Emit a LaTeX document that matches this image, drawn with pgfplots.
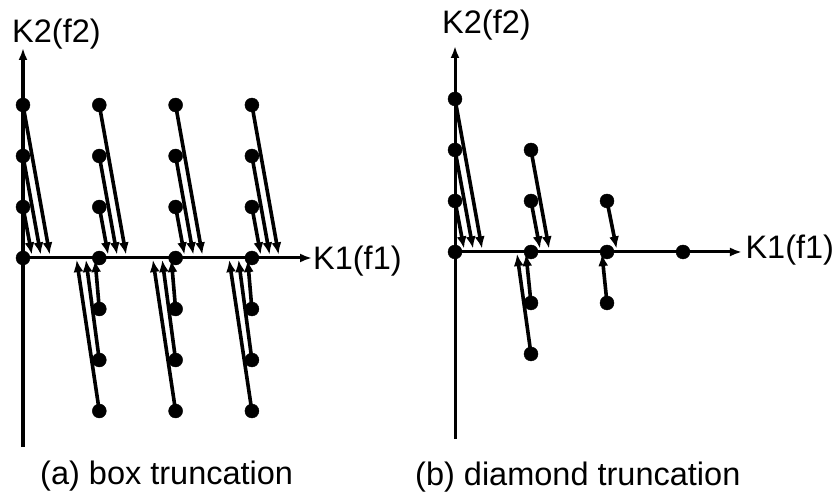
\documentclass[border=0pt]{standalone}
\usepackage{pgfplots}
\pgfplotsset{compat=1.18}
\usepackage{fontspec}
\setmainfont{Liberation Sans}
\usetikzlibrary{arrows.meta}

\pgfplotsset{
  panel/.style={
    x=76.3pt, y=51pt,
    axis lines=middle,
    xtick=\empty, ytick=\empty,
    axis line style={line width=3pt, -{Latex[length=12pt,width=9pt]}},
    clip=false,
    anchor=south west,
  },
}
\tikzset{arr/.style={black, line width=3.6pt, -{Latex[length=12pt,width=10pt]}}}
\newcommand{\arw}[4]{\addplot[arr, mark=none] coordinates {(#1,#2) (#3,#4)};}
\newcommand{\dotstyle}{only marks, mark=*, mark size=7pt, black}

\begin{document}
\begin{tikzpicture}
\useasboundingbox (0pt,0pt) rectangle (837pt,-494pt);
\fontsize{32.5}{39}\selectfont
% (a) box truncation
\begin{axis}[panel, at={(23pt,-447pt)}, xmin=0, xmax=3.788, ymin=-3.706, ymax=4.118]
\arw{0}{1}{0.115}{0.07}
\arw{0}{2}{0.232}{0.07}
\arw{0}{3}{0.350}{0.07}
\arw{1}{1}{1.115}{0.07}
\arw{1}{2}{1.232}{0.07}
\arw{1}{3}{1.350}{0.07}
\arw{2}{1}{2.115}{0.07}
\arw{2}{2}{2.232}{0.07}
\arw{2}{3}{2.350}{0.07}
\arw{3}{1}{3.115}{0.07}
\arw{3}{2}{3.232}{0.07}
\arw{3}{3}{3.350}{0.07}
\arw{1}{-1}{0.945}{-0.04}
\arw{1}{-2}{0.825}{-0.04}
\arw{1}{-3}{0.703}{-0.04}
\arw{2}{-1}{1.945}{-0.04}
\arw{2}{-2}{1.825}{-0.04}
\arw{2}{-3}{1.703}{-0.04}
\arw{3}{-1}{2.945}{-0.04}
\arw{3}{-2}{2.825}{-0.04}
\arw{3}{-3}{2.703}{-0.04}
\addplot[only marks, mark=*, mark size=7pt, black] coordinates {
(0,0) (0,1) (0,2) (0,3)
(1,-3) (1,-2) (1,-1) (1,0) (1,1) (1,2) (1,3)
(2,-3) (2,-2) (2,-1) (2,0) (2,1) (2,2) (2,3)
(3,-3) (3,-2) (3,-1) (3,0) (3,1) (3,2) (3,3)
};
\node[anchor=base west, inner sep=0pt] at (axis cs:-0.144,4.235) {K2(f2)};
\node[anchor=base west, inner sep=0pt] at (axis cs:3.80,-0.235) {K1(f1)};
\node[anchor=base west, inner sep=0pt] at (axis cs:0.223,-4.45) {(a) box truncation};
\end{axis}
% (b) diamond truncation
\begin{axis}[panel, x=76pt, at={(455pt,-439pt)}, xmin=0, xmax=3.776, ymin=-3.667, ymax=4.039]
\arw{0}{1}{0.118}{0.07}
\arw{0}{2}{0.237}{0.07}
\arw{0}{3}{0.355}{0.07}
\arw{1}{1}{1.118}{0.07}
\arw{1}{2}{1.237}{0.07}
\arw{2}{1}{2.125}{0.07}
\arw{1}{-1}{0.934}{-0.04}
\arw{1}{-2}{0.816}{-0.04}
\arw{2}{-1}{1.934}{-0.04}
\addplot[only marks, mark=*, mark size=7pt, black] coordinates {
(0,0) (0,1) (0,2) (0,3)
(1,-2) (1,-1) (1,0) (1,1) (1,2)
(2,-1) (2,0) (2,1)
(3,0)
};
\node[anchor=base west, inner sep=0pt] at (axis cs:-0.171,4.29) {K2(f2)};
\node[anchor=base west, inner sep=0pt] at (axis cs:3.82,-0.118) {K1(f1)};
\node[anchor=base west, inner sep=0pt] at (axis cs:-0.526,-4.57) {(b) diamond truncation};
\end{axis}
\end{tikzpicture}
\end{document}
